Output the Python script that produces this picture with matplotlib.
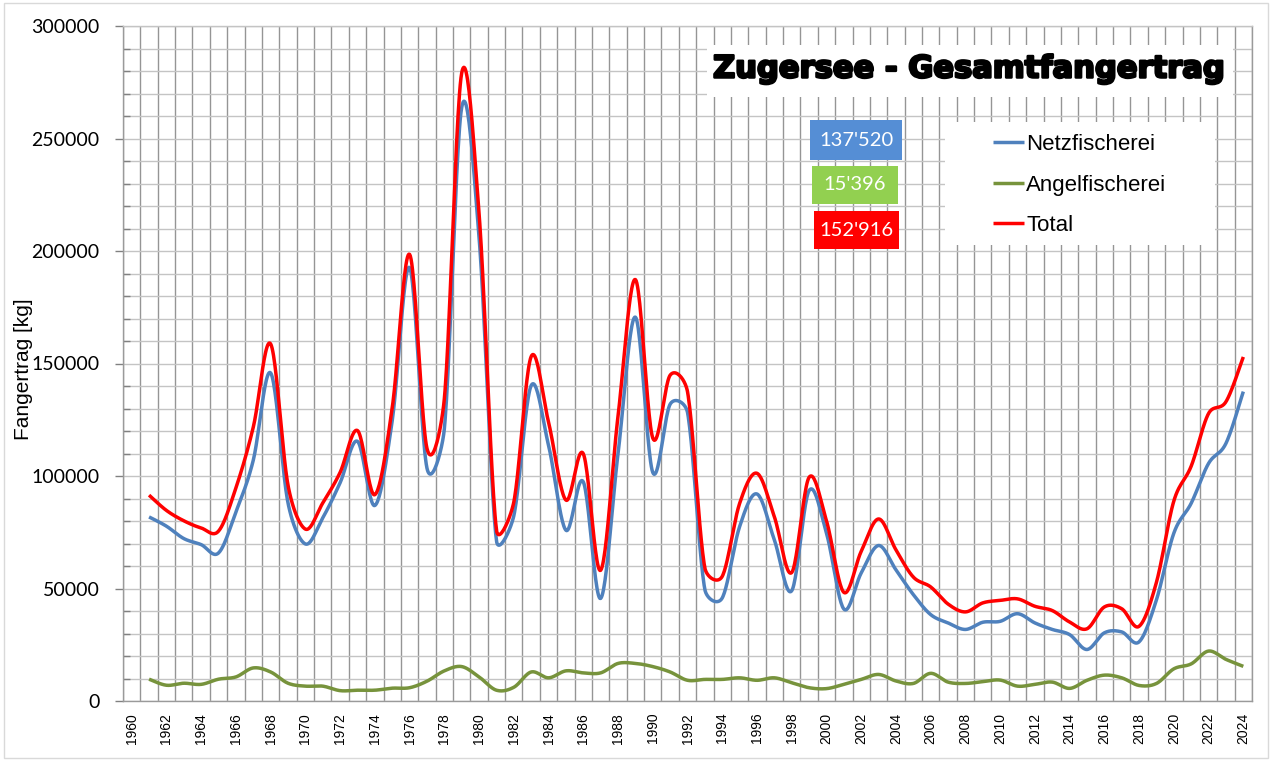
import numpy as np
import matplotlib
matplotlib.use("Agg")
import matplotlib.pyplot as plt
from matplotlib.patches import Rectangle
from matplotlib.ticker import FixedLocator, FuncFormatter, MultipleLocator
import matplotlib.patheffects as pe

# ---------------- data ----------------
years = list(range(1961, 2025))
netzfischerei = [
    81800, 77700, 72200, 69500, 65800, 84000, 107000, 145800, 88000, 69800,
    81400, 97000, 115400, 86900, 124600, 192600, 103500, 120900, 263800, 206000,
    71300, 82300, 140200, 113600, 75900, 97400, 45600, 109900, 170600, 101600,
    131900, 128300, 49500, 45800, 77500, 92000, 71600, 49000, 93500, 74600,
    40900, 56900, 69100, 58300, 47300, 38400, 34700, 31800, 35000, 35400,
    38800, 34700, 31800, 29500, 22900, 30300, 30700, 26300, 45000, 74600,
    87900, 105600, 114500, 137520]
angelfischerei = [
    9700, 7000, 7900, 7400, 9700, 10700, 14700, 12900, 7900, 6600,
    6600, 4600, 4800, 4800, 5700, 5900, 8800, 13400, 15300, 10700,
    4800, 6100, 12900, 10300, 13400, 12500, 12500, 16700, 16700, 15300,
    12900, 9200, 9600, 9600, 10300, 9200, 10300, 8100, 5900, 5500,
    7400, 9600, 11800, 8900, 7800, 12300, 8400, 7800, 8600, 9300,
    6600, 7400, 8400, 5600, 9200, 11500, 10300, 6900, 7800, 14300,
    16500, 22200, 18500, 15396]
total = [
    91500, 84700, 80100, 76900, 75500, 94700, 121700, 158700, 95900, 76400,
    88000, 101600, 120200, 91700, 130300, 198500, 112300, 134300, 279100, 216700,
    76100, 88400, 153100, 123900, 89300, 109900, 58100, 126600, 187300, 116900,
    144800, 137500, 59100, 55400, 87800, 101200, 81900, 57100, 99400, 80100,
    48300, 66500, 80900, 67200, 55100, 50700, 43100, 39600, 43600, 44700,
    45400, 42100, 40200, 35100, 32100, 41800, 41000, 33200, 52800, 88900,
    104400, 127800, 133000, 152916]
series_names = ["Netzfischerei", "Angelfischerei", "Total"]
title_text = "Zugersee - Gesamtfangertrag"
ylabel_text = "Fangertrag [kg]"
xtick_years = list(range(1960, 2025, 2))
ytick_values = list(range(0, 300001, 50000))

colors = ["#4F81BD", "#77933C", "#FF0000"]
box_colors = ["#558ED5", "#92D050", "#FF0000"]

W, H = 1273, 761
L, R, T, B = 123, 1252, 26, 701
XMIN, XMAX, YMIN, YMAX = 1959.5, 2024.5, 0, 300000
SX = (R - L) / (XMAX - XMIN)      # px per year
SY = (B - T) / (YMAX - YMIN)      # px per kg


def smooth(xv, yv, n=24):
    """Excel-like smoothed line: cubic Bezier through every point,
    control arms of 1/6 of the neighbour chord, capped at half the segment
    (distances measured in screen pixels)."""
    P = np.column_stack([(np.asarray(xv, float) - XMIN) * SX,
                         (np.asarray(yv, float) - YMIN) * SY])
    out = [P[:1]]
    t = np.linspace(0, 1, n + 1)[1:, None]
    for i in range(len(P) - 1):
        p0 = P[i - 1] if i > 0 else P[i]
        p1, p2 = P[i], P[i + 1]
        p3 = P[i + 2] if i + 2 < len(P) else P[i + 1]
        d12 = np.hypot(*(p2 - p1))
        a1 = (p2 - p0) / 6.0
        a2 = (p3 - p1) / 6.0
        l1, l2 = np.hypot(*a1), np.hypot(*a2)
        if l1 > d12 / 2 and l1 > 0:
            a1 *= (d12 / 2) / l1
        if l2 > d12 / 2 and l2 > 0:
            a2 *= (d12 / 2) / l2
        c1 = p1 + a1
        c2 = p2 - a2
        seg = ((1 - t) ** 3) * p1 + 3 * ((1 - t) ** 2) * t * c1 \
            + 3 * (1 - t) * t ** 2 * c2 + t ** 3 * p2
        out.append(seg)
    S = np.vstack(out)
    return S[:, 0] / SX + XMIN, S[:, 1] / SY + YMIN


fig = plt.figure(figsize=(W / 100, H / 100), dpi=100)
fig.patch.set_facecolor("white")
ax = fig.add_axes([L / W, 1 - B / H, (R - L) / W, (B - T) / H])

for vals, name, col in zip([netzfischerei, angelfischerei, total], series_names, colors):
    sx, sy = smooth(years, vals)
    ax.plot(sx, sy, color=col, lw=2.5, label=name, zorder=3, solid_capstyle="butt")

ax.set_xlim(XMIN, XMAX)
ax.set_ylim(YMIN, YMAX)

# x axis
ax.xaxis.set_major_locator(FixedLocator(xtick_years))
ax.xaxis.set_minor_locator(FixedLocator(np.arange(1959.5, 2025.0, 1.0)))
ax.tick_params(axis="x", which="major", length=0, pad=8.5, labelrotation=90,
               labelsize=10)
ax.tick_params(axis="x", which="minor", length=0)
for lbl in ax.get_xticklabels():
    lbl.set_fontfamily("Liberation Sans")

# y axis
ax.yaxis.set_major_locator(FixedLocator(ytick_values))
ax.yaxis.set_minor_locator(MultipleLocator(10000))
ax.yaxis.set_major_formatter(FuncFormatter(lambda v, p: f"{int(v)}"))
ax.tick_params(axis="y", which="major", direction="out", length=6, width=1,
               color="#808080", pad=11, labelsize=14)
ax.tick_params(axis="y", which="minor", direction="in", length=5, width=1,
               color="#808080")
for lbl in ax.get_yticklabels():
    lbl.set_fontfamily("Lato")

ax.grid(True, axis="x", which="minor", color="#959595", lw=1.0, zorder=0)
ax.grid(True, axis="y", which="both", color="#C4C4C4", lw=1.0, zorder=0)
ax.grid(False, axis="x", which="major")
ax.set_axisbelow(True)

for s in ax.spines.values():
    s.set_color("#9A9A9A")
    s.set_linewidth(1.0)
ax.spines["top"].set_color("#C4C4C4")

ax.set_ylabel(ylabel_text, fontsize=15, family="Liberation Sans")
ax.yaxis.set_label_coords((33 - L) / (R - L), 1 - (369 - T) / (B - T))


def px_box(x0, y0, x1, y1):
    return ((x0 - L) / (R - L), 1 - (y1 - T) / (B - T),
            (x1 - x0) / (R - L), (y1 - y0) / (B - T))


# title box
bx, by, bw, bh = px_box(707, 45, 1233, 97)
ax.add_patch(Rectangle((bx, by), bw, bh, transform=ax.transAxes,
                       facecolor="white", edgecolor="none", zorder=5))
ax.text((968 - L) / (R - L), 1 - (69 - T) / (B - T), title_text,
        transform=ax.transAxes, ha="center", va="center", fontsize=22,
        family="DejaVu Sans", fontweight="bold", color="black", zorder=6,
        path_effects=[pe.withStroke(linewidth=1.8, foreground="black")])

# value boxes (last year values)
last_vals = [netzfischerei[-1], angelfischerei[-1], total[-1]]
boxes_px = [(810, 120, 902, 160), (812, 166, 898, 204), (814, 211, 899, 249)]
for v, c, bpx in zip(last_vals, box_colors, boxes_px):
    x0, y0, w0, h0 = px_box(*bpx)
    ax.add_patch(Rectangle((x0, y0), w0, h0, transform=ax.transAxes,
                           facecolor=c, edgecolor="none", zorder=5))
    ax.text(x0 + w0 / 2, y0 + h0 / 2, f"{v:,}".replace(",", "'"),
            transform=ax.transAxes, ha="center", va="center",
            fontsize=14.5, family="Lato", color="white", zorder=6)

# legend box
lx, ly, lw_, lh = px_box(945, 122, 1215, 245)
ax.add_patch(Rectangle((lx, ly), lw_, lh, transform=ax.transAxes,
                       facecolor="white", edgecolor="none", zorder=5))
leg = ax.legend(loc="upper left",
                bbox_to_anchor=((993 - L) / (R - L), 1 - (134 - T) / (B - T)),
                frameon=False, handlelength=1.4,
                handletextpad=0.1, labelspacing=0.88, borderpad=0,
                borderaxespad=0, prop={"family": "Liberation Sans", "size": 16})
leg.set_zorder(7)

# outer chart border
fig.add_artist(Rectangle((4 / W, 3 / H), (W - 9) / W, (H - 6) / H,
                         transform=fig.transFigure, facecolor="none",
                         edgecolor="#D9D9D9", lw=1.0))

fig.savefig("out.png", dpi=100, facecolor="white")
